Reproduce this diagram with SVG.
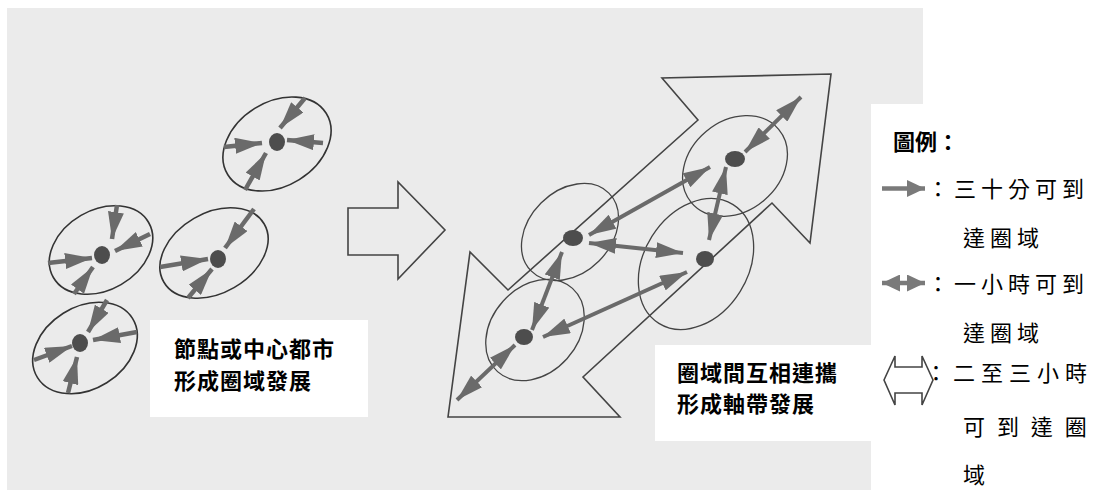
<svg xmlns="http://www.w3.org/2000/svg" width="1098" height="494" viewBox="0 0 1098 494">
  <defs>
    <style>
      .bg { fill: #ebebeb; }
      .box { fill: #ffffff; }
      .ell { fill: none; stroke: #333; stroke-width: 1.6; }
      .ell2 { fill: none; stroke: #444; stroke-width: 1.3; }
      .dot { fill: #4d4d4d; }
      .arr { stroke: #6a6a6a; stroke-width: 4.5; fill: none; marker-end: url(#h); }
      .darr { stroke: #6a6a6a; stroke-width: 4; fill: none; marker-start: url(#h); marker-end: url(#h); }
      .hollow { fill: none; stroke: #444; stroke-width: 1.6; stroke-linejoin: miter; }
      .lbl { font-family: "Noto Sans CJK TC", "Noto Sans CJK SC", sans-serif; font-weight: 700; font-size: 22px; fill: #000; letter-spacing: 1px; }
      .leg { font-family: "Noto Sans CJK TC", "Noto Sans CJK SC", sans-serif; font-weight: 400; font-size: 22px; fill: #000; letter-spacing: 5px; }
      .legb { font-family: "Noto Sans CJK TC", "Noto Sans CJK SC", sans-serif; font-weight: 700; font-size: 22px; fill: #000; }
    </style>
    <marker id="h" markerUnits="userSpaceOnUse" markerWidth="27" markerHeight="16" viewBox="0 0 27 16" refX="27" refY="8" orient="auto-start-reverse">
      <path d="M0,0 L27,8 L0,16 Z" fill="#6a6a6a"/>
    </marker>
    <marker id="hl" markerUnits="userSpaceOnUse" markerWidth="18" markerHeight="17" viewBox="0 0 18 17" refX="18" refY="8.5" orient="auto-start-reverse">
      <path d="M0,0 L18,8.5 L0,17 Z" fill="#7a7a7a"/>
    </marker>
  </defs>

  <!-- scanned background -->
  <path class="bg" d="M7,8 H923 V104 H871 V490 H7 Z"/>

  <!-- left: nodes forming regions -->
  <g id="region-a">
    <ellipse class="ell" cx="277" cy="144" rx="58" ry="42" transform="rotate(-32 277 144)"/>
    <ellipse class="dot" cx="277" cy="142" rx="8" ry="9"/>
  </g>
  <g id="region-b">
    <ellipse class="ell" cx="101" cy="250" rx="55" ry="40" transform="rotate(-30 101 250)"/>
    <ellipse class="dot" cx="102" cy="255" rx="8" ry="9"/>
  </g>
  <g id="region-c">
    <ellipse class="ell" cx="214" cy="253" rx="58" ry="40" transform="rotate(-30 214 253)"/>
    <ellipse class="dot" cx="218" cy="259" rx="8" ry="9"/>
  </g>
  <g id="region-d">
    <ellipse class="ell" cx="85" cy="348" rx="56" ry="41" transform="rotate(-32 85 348)"/>
    <ellipse class="dot" cx="80" cy="343" rx="8" ry="9"/>
  </g>

  <!-- big hollow arrow (transition) -->
  <g id="transition-arrow">
    <path class="hollow" d="M348,208 H398 V182 L445,230 L398,279 V255 H348 Z"/>
  </g>

  <!-- right: axis band hollow double arrow -->
  <g id="axis-band">
    <path class="hollow" d="M698,120 L662,78 L831,74 L810,243 L772,203 L583,377 L620,417 L448,417 L470,252 L508,290 Z"/>
  </g>

  <!-- right: regions -->
  <g id="region-e1">
    <ellipse class="ell2" cx="735" cy="166" rx="57" ry="45" transform="rotate(-40 735 166)"/>
    <ellipse class="dot" cx="735" cy="159" rx="10" ry="8"/>
  </g>
  <g id="region-e2">
    <ellipse class="ell2" cx="570" cy="232" rx="55" ry="41" transform="rotate(-45 570 232)"/>
    <ellipse class="dot" cx="573" cy="238" rx="10" ry="8"/>
  </g>
  <g id="region-e3">
    <ellipse class="ell2" cx="696" cy="264" rx="70" ry="52" transform="rotate(-58 696 264)"/>
    <ellipse class="dot" cx="705" cy="259" rx="9" ry="8"/>
  </g>
  <g id="region-e4">
    <ellipse class="ell2" cx="535" cy="330" rx="56" ry="43" transform="rotate(-48 535 330)"/>
    <ellipse class="dot" cx="524" cy="337" rx="9" ry="8"/>
  </g>

  <!-- connectors -->
  <g id="connectors">
    <!-- region A -->
    <line class="arr" x1="305" y1="98" x2="280" y2="128"/>
    <line class="arr" x1="224" y1="147" x2="262" y2="143"/>
    <line class="arr" x1="323" y1="143" x2="287" y2="140"/>
    <line class="arr" x1="245" y1="190" x2="266" y2="153"/>
    <!-- region B -->
    <line class="arr" x1="117" y1="205" x2="112" y2="239"/>
    <line class="arr" x1="150" y1="234" x2="115" y2="251"/>
    <line class="arr" x1="48" y1="263" x2="92" y2="258"/>
    <line class="arr" x1="74" y1="294" x2="93" y2="267"/>
    <!-- region C -->
    <line class="arr" x1="254" y1="209" x2="225" y2="248"/>
    <line class="arr" x1="160" y1="267" x2="208" y2="259"/>
    <line class="arr" x1="188" y1="298" x2="212" y2="269"/>
    <!-- region D -->
    <line class="arr" x1="107" y1="300" x2="88" y2="332"/>
    <line class="arr" x1="137" y1="332" x2="93" y2="340"/>
    <line class="arr" x1="34" y1="360" x2="72" y2="346"/>
    <line class="arr" x1="68" y1="393" x2="77" y2="357"/>
    <!-- right section double arrows -->
    <line class="darr" x1="745" y1="152" x2="801" y2="97"/>
    <line class="darr" x1="589" y1="235" x2="710" y2="167"/>
    <line class="darr" x1="726" y1="167" x2="709" y2="240"/>
    <line class="darr" x1="589" y1="243" x2="683" y2="253"/>
    <line class="darr" x1="562" y1="252" x2="532" y2="330"/>
    <line class="darr" x1="543" y1="337" x2="687" y2="272"/>
    <line class="darr" x1="457" y1="400" x2="515" y2="345"/>
  </g>

  <!-- labels -->
  <g id="label-left">
    <rect class="box" x="150" y="320" width="218" height="97"/>
    <text class="lbl" x="174" y="357">節點或中心都市</text>
    <text class="lbl" x="174" y="389">形成圈域發展</text>
  </g>
  <g id="label-right">
    <rect class="box" x="655" y="345" width="216" height="96"/>
    <text class="lbl" x="677" y="381">圈域間互相連攜</text>
    <text class="lbl" x="677" y="412">形成軸帶發展</text>
  </g>

  <!-- legend -->
  <g id="legend">
    <rect class="box" x="871" y="104" width="227" height="390"/>
    <text class="legb" x="893" y="150">圖例：</text>

    <line x1="882" y1="188.5" x2="925" y2="188.5" stroke="#7a7a7a" stroke-width="4.5" marker-end="url(#hl)"/>
    <text class="leg" x="927" y="197">：三十分可到</text>
    <text class="leg" x="963" y="246">達圈域</text>

    <line x1="882" y1="283" x2="925" y2="283" stroke="#7a7a7a" stroke-width="4.5" marker-start="url(#hl)" marker-end="url(#hl)"/>
    <text class="leg" x="927" y="292">：一小時可到</text>
    <text class="leg" x="963" y="341">達圈域</text>

    <path class="hollow" d="M884,380 L895,356 V367 H922 V356 L933,380 L922,405 V393 H895 V405 Z"/>
    <text class="leg" x="925" y="381" style="letter-spacing:6px">：二至三小時</text>
    <text class="leg" x="963" y="435" style="letter-spacing:3.5px">可 到 達 圈</text>
    <text class="leg" x="963" y="483">域</text>
  </g>
</svg>
